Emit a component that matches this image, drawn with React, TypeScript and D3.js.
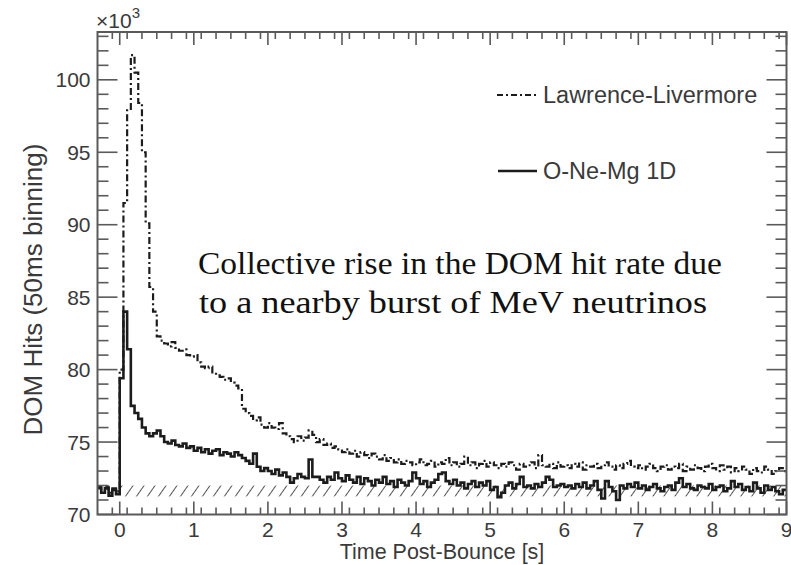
import React from "react";
import * as d3 from "d3";

// ---------- data ----------
const BIN_START = -0.3; // seconds
const BIN_WIDTH = 0.05; // 50 ms binning

// Lawrence-Livermore model (x10^3 DOM hits per 50 ms bin)
const llHits = [
  71.8, 71.6, 71.9, 71.5, 71.8, 71.6,
  80.0, 91.5, 97.9, 101.7, 100.5, 98.4, 95.0, 90.1, 85.7, 84.0, 82.3, 82.0, 81.8, 81.6, 81.9, 81.5, 81.3, 81.4, 81.0, 80.9,
  81.0, 80.5, 80.2, 80.1, 80.2, 79.8, 79.6, 79.5, 79.3, 79.4, 79.1, 78.9, 78.7, 77.3, 77.0, 76.8, 76.5, 76.7, 76.2, 76.0,
  76.3, 76.0, 75.9, 76.3, 75.6, 75.4, 75.2, 75.0, 75.4, 75.1, 75.3, 75.8, 75.5, 75.0, 75.2, 74.8, 74.9, 74.6, 74.7, 74.5,
  74.3, 74.5, 74.2, 74.4, 74.0, 74.3, 74.1, 73.9, 74.2, 74.0, 73.8, 74.1, 73.7, 73.9, 73.6, 73.8, 73.5, 73.7, 73.6, 73.4,
  73.6, 73.8, 73.4, 73.5, 73.7, 73.3, 73.6, 73.5, 73.9, 73.4, 73.6, 73.3, 73.5, 74.0, 73.4, 73.6, 73.2, 73.5, 73.7, 73.3,
  73.6, 73.4, 73.2, 73.5, 73.3, 73.6, 73.4, 73.1, 73.5, 73.3, 73.4, 73.6, 73.2, 74.1, 73.4, 73.3, 73.5, 73.2, 73.6, 73.3,
  73.4, 73.2, 73.5, 73.3, 73.6, 73.1, 73.4, 73.3, 73.5, 73.2, 73.4, 73.6, 73.3, 73.1, 73.4, 73.2, 73.5, 73.7, 73.3, 73.2,
  73.4, 73.1, 73.3, 73.5, 73.2, 73.0, 73.3, 73.4, 73.1, 73.3, 73.2, 73.5, 73.0, 73.3, 73.1, 73.4, 73.2, 73.0, 73.3, 73.5,
  73.2, 73.0, 73.4, 73.1, 73.3, 72.9, 73.2, 73.0, 73.3, 73.1, 72.8, 73.2, 73.0, 72.9, 73.3, 73.1, 72.8, 73.0, 73.2, 73.0,
];

// O-Ne-Mg 1D model
const oneMgHits = [
  71.9, 71.5, 71.8, 71.3, 71.7, 71.4,
  79.4, 84.0, 81.4, 77.5, 77.0, 76.6, 76.0, 75.6, 75.4, 75.6, 75.8, 75.4, 75.0, 74.9, 75.1, 74.8, 74.7, 74.9, 74.6, 74.7,
  74.4, 74.6, 74.3, 74.5, 74.2, 74.4, 74.5, 74.1, 74.3, 74.2, 74.0, 74.3, 74.1, 73.9, 73.7, 73.5, 74.2, 73.3, 73.0, 73.2,
  73.0, 72.8, 73.1, 72.7, 72.9, 72.6, 72.2, 72.5, 72.8, 72.6, 72.5, 73.8, 72.6, 72.6, 72.4, 72.2, 72.6, 72.4, 72.9, 72.5,
  72.3, 72.7, 72.4, 72.2, 72.6, 72.1, 72.5, 72.3, 72.0, 72.4, 72.2, 72.6, 72.1, 72.3, 71.9, 72.4, 72.2, 72.0, 72.3, 72.9,
  72.5, 72.1, 72.3, 71.9, 72.2, 72.4, 72.8, 72.9, 72.3, 72.1, 72.4, 72.0, 72.2, 71.8, 72.1, 72.3, 71.9, 72.2, 72.0, 72.3,
  71.7, 71.9, 71.2, 71.5, 72.0, 72.2, 71.8, 72.1, 72.6, 71.9, 72.0, 71.8, 72.1, 71.9, 72.2, 72.6, 72.4, 71.9, 72.0, 72.1,
  71.9, 72.0, 71.8, 72.1, 71.9, 72.2, 71.8, 72.0, 72.3, 71.7, 71.1, 72.3, 71.9, 71.6, 71.0, 72.0, 71.8, 72.1, 71.9, 72.2,
  71.8, 72.0, 71.7, 71.9, 72.1, 71.8, 71.6, 71.9, 72.0, 71.7, 72.2, 72.5, 71.9, 72.1, 71.8, 71.7, 72.0, 71.9, 71.8, 72.1,
  71.7, 71.9, 72.0, 71.6, 71.8, 72.3, 71.9, 72.1, 71.7, 71.9, 71.6, 72.2, 71.8, 71.5, 72.0, 71.7, 71.9, 71.6, 71.4, 71.7,
];

// background band (hatched)
const bandTime = [0, 9];
const bandHits = [71.25, 72.0];

const xDomain = [-0.3, 9];
const yDomain = [70, 103.3];
const xTicks = [0, 1, 2, 3, 4, 5, 6, 7, 8, 9];
const yTicks = [70, 75, 80, 85, 90, 95, 100];
const xMinorStep = 0.2;
const yMinorStep = 1;

const legendLabels = ["Lawrence-Livermore", "O-Ne-Mg 1D"];
const annotationLines = [
  "Collective rise in the DOM hit rate due",
  "to a nearby burst of MeV neutrinos",
];
const xTitle = "Time Post-Bounce [s]";
const yTitle = "DOM Hits (50ms binning)";

// ---------- component ----------
const SANS = "'Liberation Sans', Arial, Helvetica, sans-serif";
const SERIF = "'Liberation Serif', 'Times New Roman', serif";
const FRAME = "#5a5a5a";
const TEXT = "#3a3a3a";
const INK = "#1c1c1c";
const DASHDOT = "7 3 2 3";

function toSteps(values: number[]) {
  const pts = values.map((v, i) => [BIN_START + i * BIN_WIDTH, v] as [number, number]);
  pts.push([BIN_START + values.length * BIN_WIDTH, values[values.length - 1]]);
  return pts;
}

export default function App() {
  const W = 791;
  const H = 565;
  const L = 97.5, R = 786.5, T = 32, B = 514.5;

  const x = d3.scaleLinear().domain(xDomain).range([L, R]);
  const y = d3.scaleLinear().domain(yDomain).range([B, T]);

  const line = d3
    .line<[number, number]>()
    .x((d) => x(d[0]))
    .y((d) => y(d[1]))
    .curve(d3.curveStepAfter);

  const llPath = line(toSteps(llHits)) || "";
  const onePath = line(toSteps(oneMgHits)) || "";

  const xMinor = d3
    .range(xDomain[0], xDomain[1] + 1e-6, xMinorStep)
    .map((v) => Math.round(v * 10) / 10)
    .filter((v) => v > xDomain[0] + 1e-6 && Math.abs(v - Math.round(v)) > 1e-6);
  const yMinor = d3
    .range(yDomain[0], yDomain[1], yMinorStep)
    .filter((v) => v % 5 !== 0);

  const xMajLen = 13, xMinLen = 7;
  const yMajLen = 20, yMinLen = 11;

  return (
    <svg
      width={W}
      height={H}
      viewBox={`0 0 ${W} ${H}`}
      style={{ position: "absolute", left: 0, top: 0, background: "#fff" }}
    >
      <defs>
        <clipPath id="plotClip">
          <rect x={L} y={T} width={R - L} height={B - T} />
        </clipPath>
        <pattern
          id="hatch"
          patternUnits="userSpaceOnUse"
          width={9}
          height={12}
          patternTransform="rotate(35)"
        >
          <line x1={0} y1={0} x2={0} y2={12} stroke="#555" strokeWidth={2} />
        </pattern>
      </defs>

      <rect x={0} y={0} width={W} height={H} fill="#fff" />

      {/* hatched band */}
      <rect
        x={x(bandTime[0])}
        y={y(bandHits[1])}
        width={x(bandTime[1]) - x(bandTime[0])}
        height={y(bandHits[0]) - y(bandHits[1])}
        fill="url(#hatch)"
      />

      {/* data */}
      <g clipPath="url(#plotClip)">
        <path d={onePath} fill="none" stroke={INK} strokeWidth={2.6} strokeLinejoin="miter" />
        <path
          d={llPath}
          fill="none"
          stroke={INK}
          strokeWidth={2.2}
          strokeDasharray={DASHDOT}
        />
      </g>

      {/* frame */}
      <rect x={L} y={T} width={R - L} height={B - T} fill="none" stroke={FRAME} strokeWidth={2} />

      {/* ticks on all four sides (inside) */}
      <g stroke={FRAME} strokeWidth={1.6}>
        {xTicks.map((t) => (
          <g key={"xt" + t}>
            <line x1={x(t)} x2={x(t)} y1={B} y2={B - xMajLen} />
            <line x1={x(t)} x2={x(t)} y1={T} y2={T + xMajLen} />
          </g>
        ))}
        {xMinor.map((t) => (
          <g key={"xm" + t}>
            <line x1={x(t)} x2={x(t)} y1={B} y2={B - xMinLen} />
            <line x1={x(t)} x2={x(t)} y1={T} y2={T + xMinLen} />
          </g>
        ))}
        {yTicks.map((v) => (
          <g key={"yt" + v}>
            <line x1={L} x2={L + yMajLen} y1={y(v)} y2={y(v)} />
            <line x1={R} x2={R - yMajLen} y1={y(v)} y2={y(v)} />
          </g>
        ))}
        {yMinor.map((v) => (
          <g key={"ym" + v}>
            <line x1={L} x2={L + yMinLen} y1={y(v)} y2={y(v)} />
            <line x1={R} x2={R - yMinLen} y1={y(v)} y2={y(v)} />
          </g>
        ))}
      </g>

      {/* tick labels */}
      <g fontFamily={SANS} fontSize={21} fill={TEXT}>
        {xTicks.map((t) => (
          <text key={"xl" + t} x={x(t)} y={537} textAnchor="middle">
            {t}
          </text>
        ))}
        {yTicks.map((v) => (
          <text key={"yl" + v} x={L - 7} y={y(v)} dy="0.36em" textAnchor="end">
            {v}
          </text>
        ))}
      </g>

      {/* exponent */}
      <text x={96} y={28} fontFamily={SANS} fontSize={21} fill={TEXT}>
        ×10
        <tspan dy={-10} fontSize={15}>3</tspan>
      </text>

      {/* axis titles */}
      <text
        x={(L + R) / 2}
        y={559}
        textAnchor="middle"
        fontFamily={SANS}
        fontSize={21.5}
        fill={TEXT}
      >
        {xTitle}
      </text>
      <text
        transform={`translate(42, ${(142 + 437) / 2}) rotate(-90)`}
        textAnchor="middle"
        fontFamily={SANS}
        fontSize={26}
        fill={TEXT}
      >
        {yTitle}
      </text>

      {/* legend */}
      <g fontFamily={SANS} fontSize={23.5} fill={TEXT}>
        <line x1={497} x2={538} y1={95} y2={95} stroke={INK} strokeWidth={2} strokeDasharray="6 3 2 3" />
        <text x={543} y={103}>{legendLabels[0]}</text>
        <line x1={498} x2={537} y1={171} y2={171} stroke={INK} strokeWidth={2.6} />
        <text x={543} y={179}>{legendLabels[1]}</text>
      </g>

      {/* annotation */}
      <g fontFamily={SERIF} fontSize={31} fill="#111">
        <text x={198} y={274} textLength={524} lengthAdjust="spacingAndGlyphs">
          {annotationLines[0]}
        </text>
        <text x={199} y={313} textLength={508} lengthAdjust="spacingAndGlyphs">
          {annotationLines[1]}
        </text>
      </g>
    </svg>
  );
}
